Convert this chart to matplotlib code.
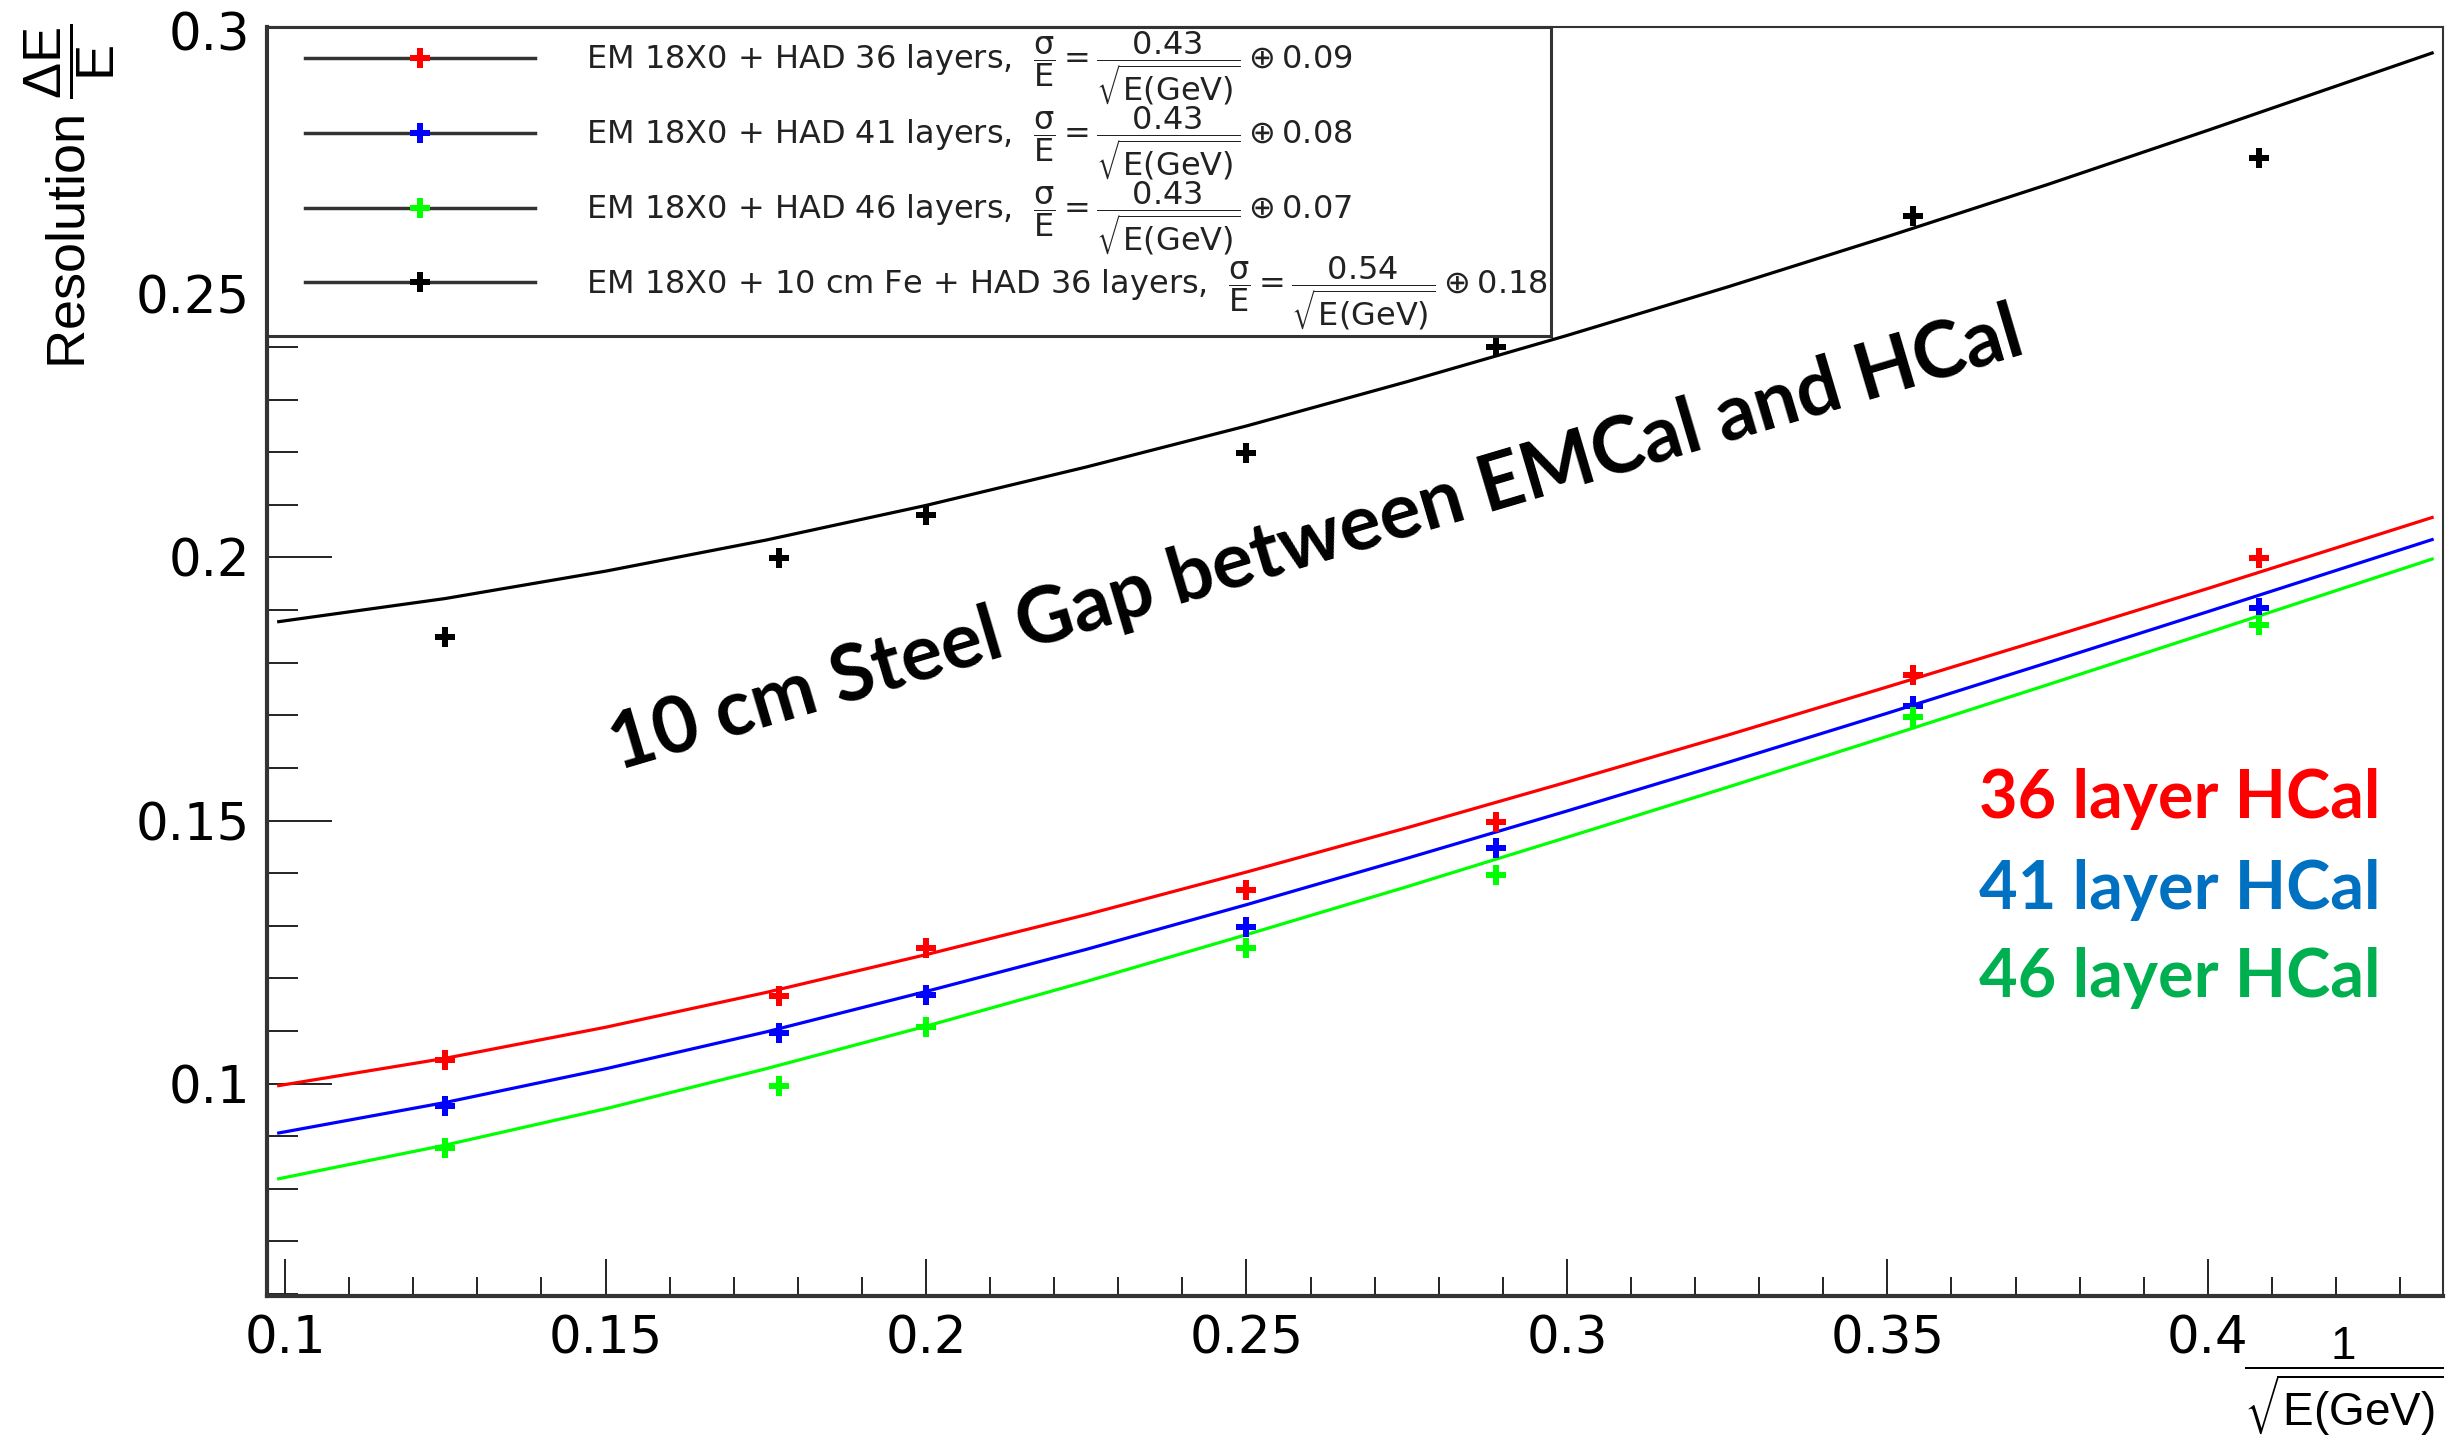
import matplotlib
matplotlib.use("Agg")
import matplotlib.pyplot as plt
from matplotlib.lines import Line2D
from matplotlib.legend_handler import HandlerLine2D
from matplotlib.ticker import MultipleLocator

# measured points, x = 1/sqrt(E)
x_points = [0.125, 0.177, 0.2, 0.25, 0.289, 0.354, 0.408]
res_36 = [0.1045, 0.1167, 0.1258, 0.1368, 0.1497, 0.1777, 0.1999]
res_41 = [0.0957, 0.1096, 0.1168, 0.1298, 0.1448, 0.1718, 0.1904]
res_46 = [0.0878, 0.0996, 0.1108, 0.1258, 0.1397, 0.1697, 0.1872]
res_fe = [0.1849, 0.1999, 0.2081, 0.2199, 0.2401, 0.2649, 0.2760]

# fit curves
x_fit = [0.099, 0.125, 0.15, 0.175, 0.2, 0.225, 0.25, 0.275, 0.3,
         0.325, 0.35, 0.375, 0.4, 0.435]
fit_36 = [0.0996, 0.1048, 0.1107, 0.1173, 0.1245, 0.1321, 0.1402, 0.1486,
          0.1573, 0.1662, 0.1754, 0.1847, 0.1941, 0.2076]
fit_41 = [0.0906, 0.0964, 0.1028, 0.1098, 0.1175, 0.1255, 0.1340, 0.1428,
          0.1518, 0.1610, 0.1704, 0.1800, 0.1897, 0.2034]
fit_46 = [0.0819, 0.0883, 0.0952, 0.1028, 0.1109, 0.1194, 0.1283, 0.1374,
          0.1468, 0.1563, 0.1660, 0.1758, 0.1857, 0.1997]
fit_fe = [0.1878, 0.1922, 0.1974, 0.2033, 0.2099, 0.2172, 0.2250, 0.2334,
          0.2422, 0.2514, 0.2610, 0.2709, 0.2812, 0.2959]

legend_labels = [
    "EM 18X0 + HAD 36 layers,  " + r"$\dfrac{\sigma}{E}=\dfrac{0.43}{\sqrt{E(GeV)}}\oplus 0.09$",
    "EM 18X0 + HAD 41 layers,  " + r"$\dfrac{\sigma}{E}=\dfrac{0.43}{\sqrt{E(GeV)}}\oplus 0.08$",
    "EM 18X0 + HAD 46 layers,  " + r"$\dfrac{\sigma}{E}=\dfrac{0.43}{\sqrt{E(GeV)}}\oplus 0.07$",
    "EM 18X0 + 10 cm Fe + HAD 36 layers,  " + r"$\dfrac{\sigma}{E}=\dfrac{0.54}{\sqrt{E(GeV)}}\oplus 0.18$",
]
side_labels = ["36 layer HCal", "41 layer HCal", "46 layer HCal"]
side_colors = ["#FF0000", "#0070C0", "#00B050"]


class PaddedLine(HandlerLine2D):
    # leaves some room left of the legend line, like the ROOT legend
    def create_artists(self, legend, orig_handle, xdescent, ydescent, width, height, fontsize, trans):
        pad = 1.1 * fontsize
        return super().create_artists(legend, orig_handle, xdescent - pad, ydescent,
                                      width - pad, height, fontsize, trans)


plt.rcParams['font.family'] = ['Liberation Sans', 'DejaVu Sans']
plt.rcParams['mathtext.default'] = 'regular'
plt.rcParams['mathtext.fontset'] = 'dejavusans'

fig = plt.figure(figsize=(24.59, 14.43), dpi=100)
ax = fig.add_axes([0.1084, 0.1022, 0.8851, 0.8793])

series = [
    (res_36, fit_36, "#FF0000"),
    (res_41, fit_41, "#0000FF"),
    (res_46, fit_46, "#00FF00"),
    (res_fe, fit_fe, "black"),
]
for res, fit, col in series:
    ax.plot(x_fit, fit, color=col, lw=2.3, zorder=3)
    ax.plot(x_points, res, ls='none', marker='P', ms=15, color=col, mew=0, zorder=4)

ax.set_xlim(0.0971, 0.4367)
ax.set_ylim(0.0597, 0.3009)

ax.xaxis.set_major_locator(MultipleLocator(0.05))
ax.xaxis.set_minor_locator(MultipleLocator(0.01))
ax.yaxis.set_major_locator(MultipleLocator(0.05))
ax.yaxis.set_minor_locator(MultipleLocator(0.01))
ax.xaxis.set_major_formatter(plt.FuncFormatter(lambda v, p: f"{v:g}"))
ax.yaxis.set_major_formatter(plt.FuncFormatter(lambda v, p: f"{v:g}"))

ax.tick_params(axis='both', which='both', direction='in', top=False, right=False, width=1.4, color='#222222')
ax.tick_params(axis='x', which='major', length=27, pad=14)
ax.tick_params(axis='x', which='minor', length=14)
ax.tick_params(axis='y', which='major', length=47, pad=12)
ax.tick_params(axis='y', which='minor', length=22)
for lab in ax.get_xticklabels() + ax.get_yticklabels():
    lab.set_fontfamily('DejaVu Sans')
    lab.set_fontsize(37)

ax.spines['left'].set_linewidth(3)
ax.spines['bottom'].set_linewidth(3)
ax.spines['top'].set_linewidth(1.5)
ax.spines['right'].set_linewidth(1.5)
for s in ax.spines.values():
    s.set_color('#333333')

ax.set_ylabel(r"Resolution $\dfrac{\Delta E}{E}$", loc='top', fontsize=39)
ax.yaxis.set_label_coords(-0.0685, 1.0025)
ax.set_xlabel(r"$\dfrac{1}{\sqrt{E(GeV)}}$", loc='right', fontsize=33)
ax.xaxis.set_label_coords(1.0, -0.024)

# legend
handles = []
for res, fit, col in series:
    handles.append(Line2D([], [], color='#333333', lw=2.5, marker='P', ms=14,
                          markerfacecolor=col, markeredgecolor=col, mew=0))
leg = ax.legend(handles, legend_labels, loc='upper left', bbox_to_anchor=(0, 1),
                borderaxespad=0, handlelength=8.3, handletextpad=1.6,
                labelspacing=-0.1, borderpad=0.1, fancybox=False, framealpha=1,
                edgecolor='#333333', prop={'family': 'DejaVu Sans', 'size': 23},
                handler_map={Line2D: PaddedLine()})
leg.get_frame().set_linewidth(2.2)
for t in leg.get_texts():
    t.set_color('#222222')

# annotations
ax.text(0.152, 0.1594, "10 cm Steel Gap between EMCal and HCal", rotation=16.5,
        rotation_mode='anchor', ha='left', va='baseline', fontsize=56,
        fontfamily='Lato', fontweight='bold', color='black', zorder=6)
side_y = [0.1504, 0.1331, 0.1164]
for txt, col, yy in zip(side_labels, side_colors, side_y):
    ax.text(0.4269, yy, txt, ha='right', va='baseline', fontsize=48,
            fontfamily='Lato', fontweight='bold', color=col, zorder=6)

fig.savefig("out.png", dpi=100, facecolor='white')
